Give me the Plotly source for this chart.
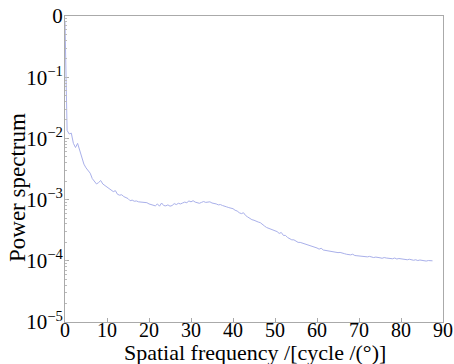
import numpy as np
import plotly.graph_objects as go

# Power spectrum values sampled every 0.5 cycle/deg from 0 to 87.5
freq_step = 0.5
power = [
    8.0e-1, 1.35e-2, 1.18e-2, 1.22e-2, 8.3e-3, 7.1e-3, 8.3e-3, 6.2e-3, 4.9e-3, 3.8e-3,
    3.3e-3, 3.0e-3, 2.7e-3, 2.2e-3, 2.0e-3, 1.8e-3, 1.9e-3, 2.05e-3, 1.8e-3, 1.7e-3,
    1.62e-3, 1.55e-3, 1.48e-3, 1.35e-3, 1.40e-3, 1.22e-3, 1.18e-3, 1.20e-3, 1.12e-3, 1.08e-3,
    1.04e-3, 9.6e-4, 9.8e-4, 9.4e-4, 9.5e-4, 9.2e-4, 9.1e-4, 9.0e-4, 8.8e-4, 8.9e-4,
    8.5e-4, 8.3e-4, 8.0e-4, 7.9e-4, 8.5e-4, 7.8e-4, 8.8e-4, 8.0e-4, 7.9e-4, 8.2e-4,
    7.8e-4, 8.0e-4, 8.6e-4, 8.3e-4, 8.7e-4, 8.5e-4, 8.8e-4, 9.1e-4, 8.9e-4, 9.5e-4,
    9.2e-4, 9.6e-4, 9.1e-4, 8.9e-4, 8.7e-4, 9.0e-4, 9.3e-4, 9.0e-4, 9.1e-4, 9.2e-4,
    8.8e-4, 8.7e-4, 8.5e-4, 8.2e-4, 8.3e-4, 8.0e-4, 7.9e-4, 7.6e-4, 7.4e-4, 7.2e-4,
    7.1e-4, 6.7e-4, 6.5e-4, 6.1e-4, 5.9e-4, 6.1e-4, 5.5e-4, 5.2e-4, 4.9e-4, 4.7e-4,
    4.6e-4, 4.4e-4, 4.3e-4, 4.2e-4, 4.0e-4, 3.7e-4, 3.5e-4, 3.4e-4, 3.3e-4, 3.2e-4,
    3.1e-4, 3.0e-4, 2.8e-4, 2.9e-4, 2.6e-4, 2.6e-4, 2.4e-4, 2.3e-4, 2.2e-4, 2.2e-4,
    2.1e-4, 2.0e-4, 2.0e-4, 1.95e-4, 1.9e-4, 1.85e-4, 1.8e-4, 1.78e-4, 1.7e-4, 1.68e-4,
    1.62e-4, 1.55e-4, 1.6e-4, 1.5e-4, 1.48e-4, 1.46e-4, 1.44e-4, 1.4e-4, 1.42e-4, 1.38e-4,
    1.36e-4, 1.37e-4, 1.32e-4, 1.31e-4, 1.28e-4, 1.26e-4, 1.25e-4, 1.28e-4, 1.22e-4, 1.21e-4,
    1.2e-4, 1.18e-4, 1.17e-4, 1.19e-4, 1.16e-4, 1.18e-4, 1.14e-4, 1.13e-4, 1.15e-4, 1.12e-4,
    1.12e-4, 1.1e-4, 1.13e-4, 1.11e-4, 1.09e-4, 1.1e-4, 1.08e-4, 1.11e-4, 1.07e-4, 1.09e-4,
    1.07e-4, 1.05e-4, 1.06e-4, 1.04e-4, 1.06e-4, 1.03e-4, 1.02e-4, 1.04e-4, 1.01e-4, 1.03e-4,
    1.01e-4, 1.0e-4, 9.9e-5, 1.01e-4, 1.0e-4, 1.0e-4,
]
freq = np.arange(len(power)) * freq_step

x_ticks = [0, 10, 20, 30, 40, 50, 60, 70, 80, 90]
y_tickvals = [1, 1e-1, 1e-2, 1e-3, 1e-4, 1e-5]
y_ticktext = ["0", "10<sup>−1</sup>", "10<sup>−2</sup>", "10<sup>−3</sup>",
              "10<sup>−4</sup>", "10<sup>−5</sup>"]

fig = go.Figure()
fig.add_trace(go.Scatter(x=freq, y=power, mode="lines",
                         line=dict(color="#a9b0ea", width=1), showlegend=False))
# invisible helper trace so the minor-tick axis is drawn
fig.add_trace(go.Scatter(x=[freq[0]], y=[power[0]], yaxis="y2", mode="markers",
                         marker=dict(opacity=0), showlegend=False, hoverinfo="skip"))

font_family = "Liberation Serif"
fig.update_layout(
    width=454, height=364,
    margin=dict(l=65, r=11, t=16, b=42),
    paper_bgcolor="white", plot_bgcolor="white",
    font=dict(family=font_family, size=17, color="black"),
    xaxis=dict(
        range=[0, 90], tickvals=x_ticks, ticks="inside", ticklen=4,
        tickcolor="#aaaaaa", showline=True, linecolor="#aaaaaa", linewidth=1,
        mirror=True, showgrid=False, zeroline=False, automargin=False,
        tickfont=dict(size=20), ticklabelstandoff=-10,
    ),
    yaxis=dict(
        type="log", range=[-5, 0], tickvals=y_tickvals, ticktext=y_ticktext,
        ticks="inside", ticklen=4, tickcolor="#aaaaaa", automargin=False,
        showline=True, linecolor="#aaaaaa", linewidth=1, mirror=True,
        showgrid=False, zeroline=False, tickfont=dict(size=21),
        ticklabelstandoff=-3,
    ),
    yaxis2=dict(
        type="log", range=[-5, 0], overlaying="y", side="left", dtick="D1",
        ticks="inside", ticklen=2, tickcolor="#bbbbbb", showticklabels=False,
        showline=False, showgrid=False, zeroline=False, automargin=False,
    ),
    annotations=[
        dict(text="Spatial frequency /[cycle /(°)]", xref="paper", yref="paper",
             x=(255 - 65) / 378, y=(322 - 352) / 306, xanchor="center", yanchor="middle",
             showarrow=False, font=dict(size=22)),
        dict(text="Power spectrum", xref="paper", yref="paper",
             x=(17 - 65) / 378, y=(322 - 188) / 306, xanchor="center", yanchor="middle",
             textangle=-90, showarrow=False, font=dict(size=23)),
    ],
)

fig.write_html("out.html")
